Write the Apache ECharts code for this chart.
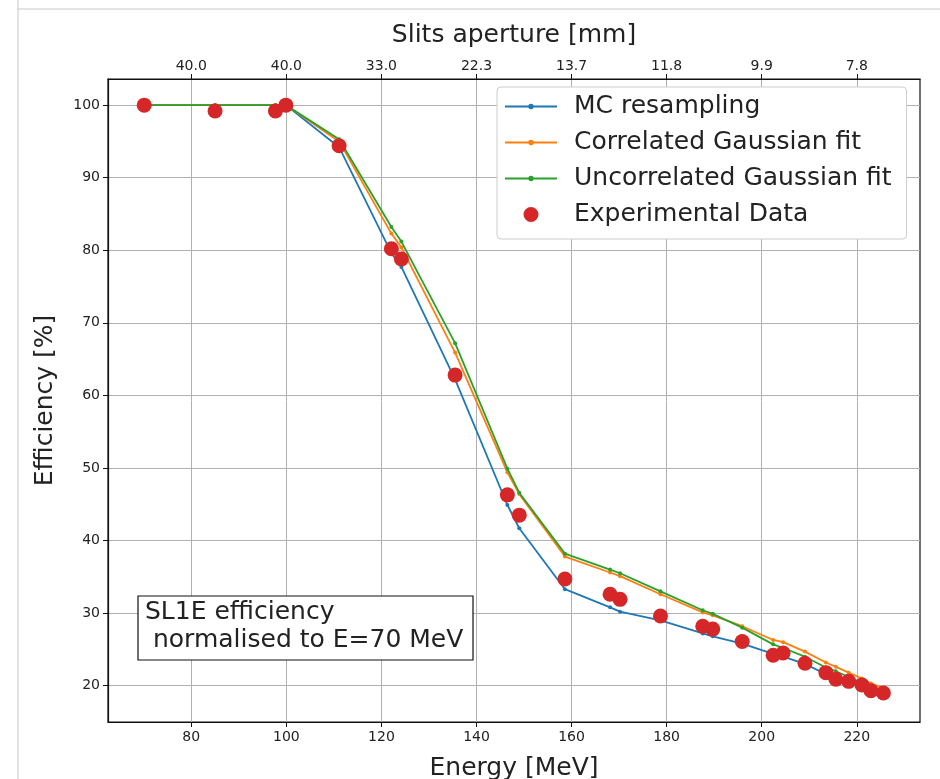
<!DOCTYPE html>
<html>
<head>
<meta charset="utf-8">
<script src="https://cdn.jsdelivr.net/npm/echarts@6/dist/echarts.min.js"></script>
<style>
html,body{margin:0;padding:0;background:#fff;}
#chart{width:940px;height:779px;}
</style>
</head>
<body>
<div id="chart"></div>
<script>
const energies = [70.1, 85.0, 97.7, 99.9, 111.1, 122.1, 124.2, 135.5, 146.5, 149.0, 158.6, 168.1, 170.2, 178.7, 187.6, 189.7, 195.9, 202.4, 204.5, 209.1, 213.5, 215.6, 218.3, 221.1, 223.0, 225.6];
const mcResampling = [100, 100, 100, 100, 94.2, 79.6, 77.7, 62.2, 44.9, 41.7, 33.3, 30.8, 30.2, 29.0, 27.2, 26.8, 25.8, 24.4, 24.0, 23.0, 21.6, 21.0, 20.5, 20.0, 19.5, 19.0];
const corrGauss = [100, 100, 100, 100, 95.0, 82.3, 80.4, 65.9, 49.4, 46.4, 37.8, 35.6, 35.1, 32.6, 30.1, 29.7, 28.2, 26.3, 26.0, 24.7, 23.2, 22.6, 21.8, 21.0, 20.3, 19.7];
const uncorrGauss = [100, 100, 100, 100, 95.3, 83.2, 81.2, 67.2, 49.9, 46.6, 38.2, 36.0, 35.5, 33.0, 30.4, 29.9, 28.0, 25.7, 25.2, 24.0, 22.5, 22.0, 21.2, 20.4, 19.8, 19.2];
const experimental = [100, 99.2, 99.2, 100, 94.4, 80.2, 78.8, 62.8, 46.3, 43.5, 34.7, 32.6, 31.9, 29.6, 28.2, 27.8, 26.1, 24.2, 24.5, 23.1, 21.8, 20.9, 20.6, 20.1, 19.3, 19.0];
const xTicks = [80, 100, 120, 140, 160, 180, 200, 220];
const yTicks = [20, 30, 40, 50, 60, 70, 80, 90, 100];
const topTickLabels = ['40.0', '40.0', '33.0', '22.3', '13.7', '11.8', '9.9', '7.8'];
const seriesNames = ['MC resampling', 'Correlated Gaussian fit', 'Uncorrelated Gaussian fit', 'Experimental Data'];

const FONT = 'DejaVu Sans';
const pair = (ys) => energies.map((e, i) => [e, ys[i]]);
const chart = echarts.init(document.getElementById('chart'));

// legend icons: 64x16 box (corner specks fix the bounding box)
const BOX = ' M0,0 L0.01,0 L0,0.01 Z M64,16 L63.99,16 L64,15.99 Z';
const lineIcon = 'path://M0,7.1 L52,7.1 L52,8.9 L0,8.9 Z M23.3,8 A2.7,2.7 0 1 1 28.7,8 A2.7,2.7 0 1 1 23.3,8 Z' + BOX;
const dotIcon = 'path://M18.5,8 A7.5,7.5 0 1 1 33.5,8 A7.5,7.5 0 1 1 18.5,8 Z' + BOX;

const gridLine = { show: true, lineStyle: { color: '#b0b0b0', width: 1 } };
const tick = (vals) => ({ show: true, length: 5, customValues: vals, lineStyle: { color: '#111' } });

const option = {
  backgroundColor: '#fff',
  animation: false,
  grid: { left: 108, right: 20, top: 79, bottom: 57, outerBoundsMode: 'none', containLabel: false,
    show: true, borderColor: '#111', borderWidth: 1.2, backgroundColor: 'transparent' },
  legend: {
    orient: 'vertical', left: 497, top: 87,
    data: [
      { name: seriesNames[0], icon: lineIcon },
      { name: seriesNames[1], icon: lineIcon },
      { name: seriesNames[2], icon: lineIcon },
      { name: seriesNames[3], icon: dotIcon }
    ],
    itemWidth: 64, itemHeight: 16, itemGap: 11,
    textStyle: { fontFamily: FONT, fontSize: 25, color: '#222' },
    backgroundColor: '#fff', borderColor: '#ccc', borderWidth: 1, borderRadius: 4,
    padding: [7, 15, 12, 8]
  },
  xAxis: [
    {
      type: 'value', position: 'bottom', min: 62.48, max: 233.3,
      name: 'Energy [MeV]', nameLocation: 'middle', nameGap: 34,
      nameTextStyle: { fontFamily: FONT, fontSize: 25, color: '#222' },
      axisLine: { show: true, lineStyle: { color: '#111', width: 1.2 } },
      axisTick: tick(xTicks),
      axisLabel: { fontFamily: FONT, fontSize: 14, color: '#222', margin: 8, customValues: xTicks },
      splitLine: Object.assign({ customValues: xTicks }, gridLine)
    },
    {
      type: 'value', position: 'top', min: 62.48, max: 233.3,
      name: 'Slits aperture [mm]', nameLocation: 'middle', nameGap: 31,
      nameTextStyle: { fontFamily: FONT, fontSize: 25, color: '#222' },
      axisLine: { show: true, lineStyle: { color: '#111', width: 1.2 } },
      axisTick: tick(xTicks),
      axisLabel: { fontFamily: FONT, fontSize: 14, color: '#222', margin: 6, customValues: xTicks,
        formatter: v => { const k = xTicks.findIndex(t => Math.abs(t - v) < 1e-6); return k >= 0 ? topTickLabels[k] : ''; } },
      splitLine: { show: false }
    }
  ],
  yAxis: {
    type: 'value', min: 15, max: 103.6,
    name: 'Efficiency [%]', nameLocation: 'middle', nameGap: 50,
    nameTextStyle: { fontFamily: FONT, fontSize: 25, color: '#222' },
    axisLine: { show: true, lineStyle: { color: '#111', width: 1.2 } },
    axisTick: tick(yTicks),
    axisLabel: { fontFamily: FONT, fontSize: 14, color: '#222', margin: 8, customValues: yTicks },
    splitLine: Object.assign({ customValues: yTicks }, gridLine)
  },
  series: [
    { name: seriesNames[0], type: 'line', data: pair(mcResampling), symbol: 'circle', symbolSize: 4, showSymbol: true,
      lineStyle: { color: '#1f77b4', width: 1.8 }, itemStyle: { color: '#1f77b4' }, z: 2 },
    { name: seriesNames[1], type: 'line', data: pair(corrGauss), symbol: 'circle', symbolSize: 4, showSymbol: true,
      lineStyle: { color: '#ff7f0e', width: 1.8 }, itemStyle: { color: '#ff7f0e' }, z: 3 },
    { name: seriesNames[2], type: 'line', data: pair(uncorrGauss), symbol: 'circle', symbolSize: 4, showSymbol: true,
      lineStyle: { color: '#2ca02c', width: 1.8 }, itemStyle: { color: '#2ca02c' }, z: 4 },
    { name: seriesNames[3], type: 'scatter', data: pair(experimental), symbol: 'circle', symbolSize: 15,
      itemStyle: { color: '#d62728', opacity: 1 }, z: 5 }
  ],
  graphic: [
    { type: 'line', shape: { x1: 18, y1: 0, x2: 18, y2: 779 }, style: { stroke: '#c8c8c8', lineWidth: 1 }, silent: true },
    { type: 'line', shape: { x1: 18, y1: 9, x2: 940, y2: 9 }, style: { stroke: '#c8c8c8', lineWidth: 1 }, silent: true },
    { type: 'rect', shape: { x: 138, y: 596, width: 335, height: 64 }, style: { fill: '#fff', stroke: '#111', lineWidth: 1.2 }, z: 100 },
    { type: 'text', x: 145, y: 612, z: 101, style: { text: 'SL1E efficiency', font: '25px "DejaVu Sans"', fill: '#222', textVerticalAlign: 'middle' } },
    { type: 'text', x: 145, y: 640, z: 101, style: { text: ' normalised to E=70 MeV', font: '25px "DejaVu Sans"', fill: '#222', textVerticalAlign: 'middle' } }
  ]
};
chart.setOption(option);
</script>
</body>
</html>
